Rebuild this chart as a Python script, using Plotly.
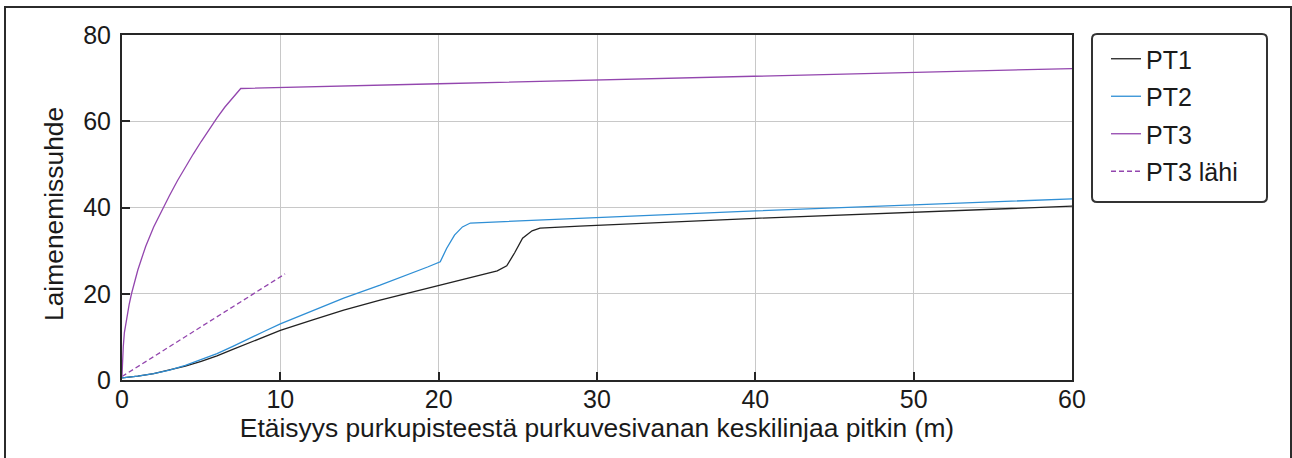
import plotly.graph_objects as go

# ---- data ----
pt1_x = [0, 1, 2, 3, 4, 5, 6, 7, 8, 9, 10, 12, 14, 16.3, 18, 20.1, 22, 23.7, 24.3, 24.8, 25.3, 25.9, 26.4, 28.9, 40, 50, 60]
pt1_y = [0.5, 0.9, 1.5, 2.3, 3.2, 4.3, 5.6, 7.1, 8.6, 10.1, 11.5, 13.9, 16.2, 18.5, 20.1, 22.0, 23.7, 25.3, 26.5, 29.5, 32.9, 34.6, 35.2, 35.7, 37.5, 38.9, 40.3]

pt2_x = [0, 1, 2, 3, 4, 4.9, 6, 7, 8, 9, 10, 12, 14, 16.3, 18, 19.3, 20.1, 20.5, 21.0, 21.5, 22.0, 28.9, 40, 50, 60]
pt2_y = [0.5, 0.9, 1.5, 2.3, 3.4, 4.6, 6.1, 7.8, 9.6, 11.3, 13.0, 16.0, 19.0, 22.0, 24.3, 26.2, 27.4, 30.5, 33.6, 35.5, 36.4, 37.5, 39.2, 40.6, 42.0]

pt3_x = [0, 0.02, 0.08, 0.15, 0.3, 0.45, 0.6, 0.8, 1, 1.25, 1.5, 2, 2.6, 3, 3.5, 4, 4.5, 5, 5.5, 6, 6.5, 7, 7.5, 20, 40, 60]
pt3_y = [1, 4.5, 7.7, 11, 14.7, 17.5, 20, 23, 25.5, 28.3, 31, 35.5, 40, 42.8, 46.2, 49.4, 52.4, 55.3, 58.1, 60.8, 63.3, 65.5, 67.6, 68.7, 70.5, 72.2]

pt3l_x = [0, 10.3]
pt3l_y = [0.8, 24.6]

names = ["PT1", "PT2", "PT3", "PT3 lähi"]
colors = ["#222222", "#2f8fd5", "#9346ae", "#9346ae"]

x_ticks = [0, 10, 20, 30, 40, 50, 60]
y_ticks = [0, 20, 40, 60, 80]

x_title = "Etäisyys purkupisteestä purkuvesivanan keskilinjaa pitkin (m)"
y_title = "Laimenemissuhde"

FONT = "Liberation Sans, Arial, sans-serif"
FS = 25
FS_TITLE = 26.4

# plot area in pixels
L, R, T, B = 122, 1072, 35, 380
W, H = 1292, 458


def px2x(px):
    return (px - L) / (R - L)


def py2y(py):
    return (B - py) / (B - T)


fig = go.Figure()
series = [(pt1_x, pt1_y), (pt2_x, pt2_y), (pt3_x, pt3_y), (pt3l_x, pt3l_y)]
for i, ((xs, ys), nm, col) in enumerate(zip(series, names, colors)):
    fig.add_trace(go.Scatter(
        x=xs, y=ys, mode="lines", name=nm, legendgroup=nm,
        line=dict(color=col, width=1.3, dash="5px,3px" if i == 3 else "solid"),
    ))

axis_common = dict(
    showline=True, linecolor="#262626", linewidth=2, mirror=True,
    ticks="inside", ticklen=8, tickwidth=2, tickcolor="#262626",
    showgrid=True, gridcolor="#c8c8c8", gridwidth=1,
    zeroline=False, tickfont=dict(family=FONT, size=FS, color="#1a1a1a"),
)

fig.update_xaxes(range=[0, 60], tickvals=x_ticks, ticktext=[str(v) for v in x_ticks],
                 title=dict(text=x_title,
                            font=dict(family=FONT, size=FS_TITLE, color="#1a1a1a"), standoff=6),
                 ticklabelstandoff=-4, **axis_common)
fig.update_yaxes(range=[0, 80], tickvals=y_ticks, ticktext=[str(v) for v in y_ticks],
                 ticklabelstandoff=4, **axis_common)

# rounded legend box
lx0, lx1, ly0, ly1, r = 1092, 1267, 34, 202, 5
path = (f"M {px2x(lx0 + r)},{py2y(ly0)} L {px2x(lx1 - r)},{py2y(ly0)} "
        f"Q {px2x(lx1)},{py2y(ly0)} {px2x(lx1)},{py2y(ly0 + r)} "
        f"L {px2x(lx1)},{py2y(ly1 - r)} Q {px2x(lx1)},{py2y(ly1)} {px2x(lx1 - r)},{py2y(ly1)} "
        f"L {px2x(lx0 + r)},{py2y(ly1)} Q {px2x(lx0)},{py2y(ly1)} {px2x(lx0)},{py2y(ly1 - r)} "
        f"L {px2x(lx0)},{py2y(ly0 + r)} Q {px2x(lx0)},{py2y(ly0)} {px2x(lx0 + r)},{py2y(ly0)} Z")

fig.update_layout(
    width=W, height=H,
    margin=dict(l=L, r=W - R, t=T, b=H - B, pad=0),
    paper_bgcolor="white", plot_bgcolor="white",
    font=dict(family=FONT, size=FS, color="#1a1a1a"),
    showlegend=True,
    legend=dict(x=px2x(1106), xanchor="left", y=py2y(36), yanchor="top",
                bgcolor="rgba(0,0,0,0)", borderwidth=0, tracegroupgap=2,
                font=dict(family=FONT, size=FS, color="#1a1a1a")),
    annotations=[
        dict(text=y_title, xref="paper", yref="paper", x=px2x(54), y=py2y(214),
             xanchor="center", yanchor="middle", textangle=-90, showarrow=False,
             font=dict(family=FONT, size=FS_TITLE, color="#1a1a1a")),
    ],
    shapes=[
        dict(type="rect", xref="paper", yref="paper",
             x0=px2x(5), x1=px2x(1291), y0=py2y(7), y1=py2y(470),
             line=dict(color="#2b2b2b", width=2), layer="below"),
        dict(type="path", xref="paper", yref="paper", path=path,
             line=dict(color="#333333", width=2)),
    ],
)

fig.write_html("out.html", config={"displayModeBar": False},
               post_script="document.body.style.margin='0';document.body.style.overflow='hidden';")
